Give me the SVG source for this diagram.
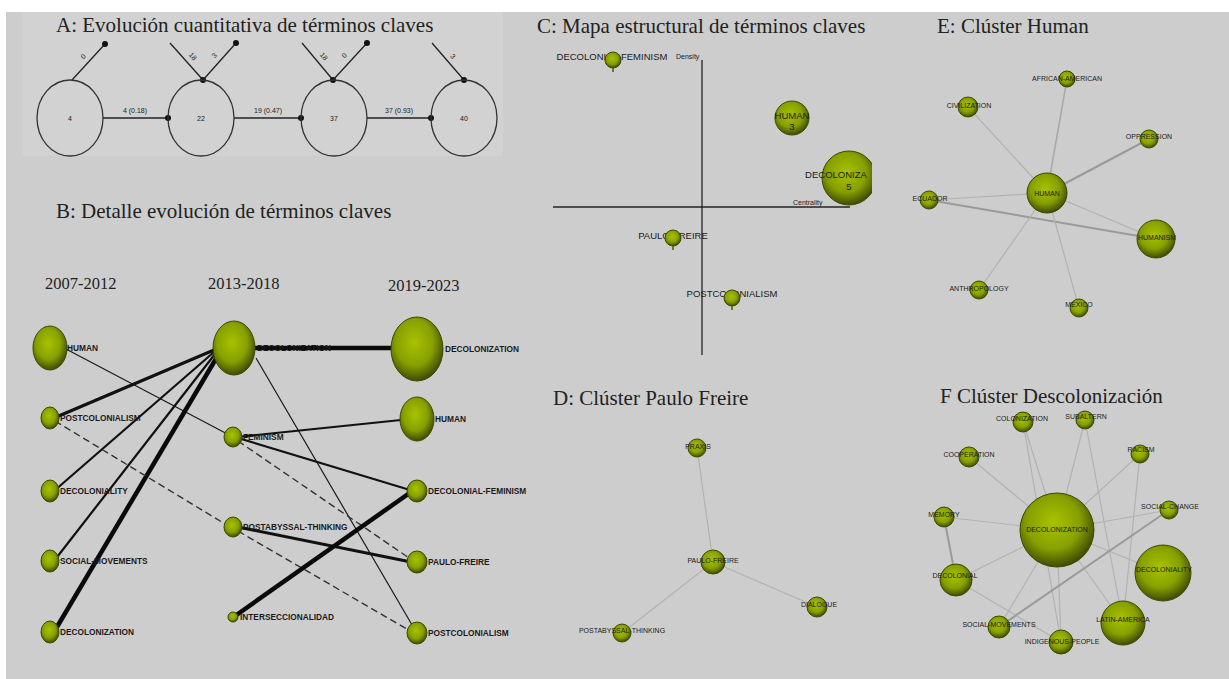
<svg xmlns="http://www.w3.org/2000/svg" width="1229" height="679" viewBox="0 0 1229 679">
<defs>
<radialGradient id="g" cx="45%" cy="40%" r="60%">
<stop offset="0" stop-color="#a8c200"/>
<stop offset="0.6" stop-color="#87a000"/>
<stop offset="1" stop-color="#3e4c00"/>
</radialGradient>
<marker id="dot" viewBox="0 0 6 6" refX="3" refY="3" markerWidth="6" markerHeight="6" markerUnits="userSpaceOnUse"><circle cx="3" cy="3" r="3" fill="#111"/></marker>
<clipPath id="clipC"><rect x="530" y="0" width="342" height="400"/></clipPath>
</defs>
<style>
.title{font-family:"Liberation Serif",serif;font-size:21px;fill:#222}
.yr{font-family:"Liberation Serif",serif;font-size:16.5px;fill:#222}
.n{fill:url(#g);stroke:#3e4a00;stroke-width:1}
.lb{font-family:"Liberation Sans",Arial,sans-serif;font-size:8.3px;font-weight:bold;fill:#1a1a1a}
.lc{font-family:"Liberation Sans",Arial,sans-serif;font-size:9.5px;fill:#1a1a1a}
.le{font-family:"Liberation Sans",Arial,sans-serif;font-size:7px;fill:#1a1a1a;text-anchor:middle}
.la{font-family:"Liberation Sans",Arial,sans-serif;font-size:7px;fill:#222;text-anchor:middle}
.ca{fill:none;stroke:#333;stroke-width:1.3}
.ea{stroke:#222;stroke-width:1.3;fill:none}
.e1{stroke:#1a1a1a;stroke-width:1.2;fill:none}
.e2{stroke:#111;stroke-width:2.2;fill:none}
.e3{stroke:#111;stroke-width:3;fill:none}
.e4{stroke:#0a0a0a;stroke-width:4.5;fill:none}
.ed{stroke:#333;stroke-width:1.4;stroke-dasharray:7 4;fill:none}
.g1{stroke:#b2b2b2;stroke-width:1.2;fill:none}
.g2{stroke:#9a9a9a;stroke-width:2;fill:none}
.ax{stroke:#222;stroke-width:1.3;fill:none}
</style>
<rect width="1229" height="679" fill="#ffffff"/>
<rect x="6" y="12" width="1223" height="667" fill="#cdcdcd"/>
<rect x="22" y="12" width="481" height="144" fill="#d2d2d2"/>

<!-- Panel A -->
<g id="panelA">
<text class="title" x="56" y="32">A: Evolución cuantitativa de términos claves</text>
<g id="connectorsA">
<line class="ea" x1="72" y1="80" x2="105" y2="44" marker-end="url(#dot)"/>
<line class="ea" x1="170" y1="43" x2="203" y2="80" marker-end="url(#dot)"/>
<line class="ea" x1="203" y1="80" x2="236" y2="43" marker-end="url(#dot)"/>
<line class="ea" x1="302" y1="43" x2="333" y2="80" marker-end="url(#dot)"/>
<line class="ea" x1="333" y1="80" x2="367" y2="43" marker-end="url(#dot)"/>
<line class="ea" x1="432" y1="43" x2="464" y2="80" marker-end="url(#dot)"/>
<line class="ea" x1="103" y1="118" x2="168" y2="118" marker-end="url(#dot)"/>
<line class="ea" x1="234" y1="118" x2="301" y2="118" marker-end="url(#dot)"/>
<line class="ea" x1="367" y1="118" x2="431" y2="118" marker-end="url(#dot)"/>
<text class="la" x="85" y="58" transform="rotate(-48 85 58)">0</text>
<text class="la" x="191" y="58" transform="rotate(48 191 58)">18</text>
<text class="la" x="216" y="57" transform="rotate(-48 216 57)">3</text>
<text class="la" x="322" y="58" transform="rotate(48 322 58)">18</text>
<text class="la" x="346" y="57" transform="rotate(-48 346 57)">0</text>
<text class="la" x="451" y="58" transform="rotate(48 451 58)">3</text>
<text class="la" x="135" y="113">4 (0.18)</text>
<text class="la" x="268" y="113">19 (0.47)</text>
<text class="la" x="399" y="113">37 (0.93)</text>
</g>
<g id="a1"><ellipse class="ca" cx="70" cy="118" rx="33" ry="38"/><text class="la" x="70" y="121">4</text></g>
<g id="a2"><ellipse class="ca" cx="201" cy="118" rx="33" ry="38"/><text class="la" x="201" y="121">22</text></g>
<g id="a3"><ellipse class="ca" cx="334" cy="118" rx="33" ry="38"/><text class="la" x="334" y="121">37</text></g>
<g id="a4"><ellipse class="ca" cx="464" cy="118" rx="33" ry="38"/><text class="la" x="464" y="121">40</text></g>
</g>

<!-- Panel B -->
<g id="panelB">
<text class="title" x="56" y="218">B: Detalle evolución de términos claves</text>
<text class="yr" x="45" y="289">2007-2012</text>
<text class="yr" x="208" y="289">2013-2018</text>
<text class="yr" x="388" y="291">2019-2023</text>
<g id="connectorsB">
<line class="e1" x1="66" y1="349" x2="233" y2="437"/>
<line class="e3" x1="54" y1="418" x2="214" y2="350"/>
<line class="e2" x1="54" y1="491" x2="214" y2="352"/>
<line class="e2" x1="54" y1="561" x2="215" y2="354"/>
<line class="e4" x1="54" y1="632" x2="217" y2="357"/>
<line class="ed" x1="55" y1="421" x2="230" y2="527"/>
<line class="e4" x1="255" y1="348" x2="392" y2="348"/>
<line class="e1" x1="256" y1="358" x2="415" y2="630"/>
<line class="e2" x1="237" y1="437" x2="401" y2="420"/>
<line class="e2" x1="238" y1="438" x2="410" y2="490"/>
<line class="ed" x1="238" y1="441" x2="412" y2="560"/>
<line class="e3" x1="238" y1="527" x2="411" y2="562"/>
<line class="ed" x1="238" y1="531" x2="412" y2="632"/>
<line class="e4" x1="235" y1="616" x2="411" y2="492"/>
</g>
<g id="b-human-l"><ellipse class="n" cx="50" cy="348" rx="17" ry="22"/><text class="lb" x="67" y="351">HUMAN</text></g>
<g id="b-postcol-l"><ellipse class="n" cx="50" cy="418" rx="9" ry="11"/><text class="lb" x="60" y="421">POSTCOLONIALISM</text></g>
<g id="b-decoloniality"><ellipse class="n" cx="50" cy="491" rx="9" ry="11"/><text class="lb" x="60" y="494">DECOLONIALITY</text></g>
<g id="b-social"><ellipse class="n" cx="50" cy="561" rx="9" ry="11"/><text class="lb" x="60" y="564">SOCIAL-MOVEMENTS</text></g>
<g id="b-decol-l"><ellipse class="n" cx="50" cy="632" rx="9" ry="11"/><text class="lb" x="60" y="635">DECOLONIZATION</text></g>
<g id="b-decol-m"><ellipse class="n" cx="234" cy="348" rx="21" ry="27"/><text class="lb" x="257" y="351">DECOLONIZATION</text></g>
<g id="b-feminism"><ellipse class="n" cx="233" cy="437" rx="9" ry="10"/><text class="lb" x="243" y="440">FEMINISM</text></g>
<g id="b-postabyssal"><ellipse class="n" cx="233" cy="527" rx="9" ry="10"/><text class="lb" x="243" y="530">POSTABYSSAL-THINKING</text></g>
<g id="b-inter"><ellipse class="n" cx="233" cy="617" rx="5" ry="5"/><text class="lb" x="240" y="620">INTERSECCIONALIDAD</text></g>
<g id="b-decol-r"><ellipse class="n" cx="417" cy="349" rx="26" ry="32"/><text class="lb" x="445" y="352">DECOLONIZATION</text></g>
<g id="b-human-r"><ellipse class="n" cx="417" cy="419" rx="17" ry="22"/><text class="lb" x="435" y="422">HUMAN</text></g>
<g id="b-decfem"><ellipse class="n" cx="417" cy="491" rx="10" ry="11"/><text class="lb" x="428" y="494">DECOLONIAL-FEMINISM</text></g>
<g id="b-paulo"><ellipse class="n" cx="417" cy="562" rx="10" ry="11"/><text class="lb" x="428" y="565">PAULO-FREIRE</text></g>
<g id="b-postcol-r"><ellipse class="n" cx="417" cy="633" rx="10" ry="11"/><text class="lb" x="428" y="636">POSTCOLONIALISM</text></g>
</g>

<!-- Panel C -->
<g id="panelC">
<text class="title" x="537" y="33">C: Mapa estructural de términos claves</text>
<g id="connectorsC">
<line class="ax" x1="702" y1="60" x2="702" y2="355"/>
<line class="ax" x1="553" y1="207" x2="850" y2="207"/>
</g>
<text class="lc" x="612" y="60" text-anchor="middle">DECOLONIAL-FEMINISM</text>
<text class="lc" x="676" y="59" style="font-size:7px">Density</text>
<text class="lc" x="793" y="205" style="font-size:7px">Centrality</text>
<g id="c-decfem"><circle class="n" cx="613" cy="60" r="8"/><line x1="613" y1="68" x2="613" y2="72" stroke="#4a5800" stroke-width="1.5"/></g>
<g id="c-human"><circle class="n" cx="792" cy="118" r="17"/><text class="lc" x="792" y="119" text-anchor="middle">HUMAN</text><text class="lc" x="792" y="130" text-anchor="middle">3</text></g>
<g id="c-decol" clip-path="url(#clipC)"><circle class="n" cx="849" cy="178" r="27"/><text class="lc" x="836" y="178" text-anchor="middle">DECOLONIZA</text><text class="lc" x="849" y="190" text-anchor="middle">5</text></g>
<g id="c-paulo"><text class="lc" x="673" y="239" text-anchor="middle">PAULO-FREIRE</text><circle class="n" cx="673" cy="238" r="8"/><line x1="673" y1="246" x2="673" y2="250" stroke="#4a5800" stroke-width="1.5"/></g>
<g id="c-postcol"><text class="lc" x="732" y="297" text-anchor="middle">POSTCOLONIALISM</text><circle class="n" cx="732" cy="298" r="8"/><line x1="732" y1="306" x2="732" y2="310" stroke="#4a5800" stroke-width="1.5"/></g>
</g>

<!-- Panel E -->
<g id="panelE">
<text class="title" x="937" y="33">E: Clúster Human</text>
<g id="connectorsE">
<line class="g1" x1="1047" y1="193" x2="968" y2="107"/>
<line class="g2" x1="1047" y1="193" x2="1067" y2="79" style="stroke:#a8a8a8;stroke-width:1.5"/>
<line class="g2" x1="1047" y1="193" x2="1149" y2="139"/>
<line class="g1" x1="1047" y1="193" x2="929" y2="200"/>
<line class="g2" x1="929" y1="200" x2="1156" y2="239"/>
<line class="g1" x1="1047" y1="193" x2="1156" y2="239"/>
<line class="g1" x1="1047" y1="193" x2="979" y2="290"/>
<line class="g1" x1="1047" y1="193" x2="1079" y2="308"/>
</g>
<g id="e-human"><circle class="n" cx="1047" cy="193" r="20"/><text class="le" x="1047" y="196">HUMAN</text></g>
<g id="e-afr"><circle class="n" cx="1067" cy="79" r="8"/><text class="le" x="1067" y="81">AFRICAN-AMERICAN</text></g>
<g id="e-civ"><circle class="n" cx="968" cy="107" r="10"/><text class="le" x="969" y="108">CIVILIZATION</text></g>
<g id="e-opp"><circle class="n" cx="1149" cy="139" r="9"/><text class="le" x="1149" y="139">OPPRESSION</text></g>
<g id="e-ecu"><circle class="n" cx="929" cy="200" r="9"/><text class="le" x="930" y="201">ECUADOR</text></g>
<g id="e-big"><circle class="n" cx="1156" cy="239" r="19"/><text class="le" x="1157" y="240">HUMANISM</text></g>
<g id="e-anth"><circle class="n" cx="979" cy="290" r="9"/><text class="le" x="979" y="291">ANTHROPOLOGY</text></g>
<g id="e-mex"><circle class="n" cx="1079" cy="308" r="9"/><text class="le" x="1079" y="307">MEXICO</text></g>
</g>

<!-- Panel D -->
<g id="panelD">
<text class="title" x="553" y="405">D: Clúster Paulo Freire</text>
<g id="connectorsD">
<line class="g1" x1="713" y1="562" x2="697" y2="448"/>
<line class="g1" x1="713" y1="562" x2="817" y2="607"/>
<line class="g1" x1="713" y1="562" x2="622" y2="633"/>
</g>
<g id="d-paulo"><circle class="n" cx="713" cy="562" r="12"/><text class="le" x="713" y="563">PAULO-FREIRE</text></g>
<g id="d-top"><circle class="n" cx="697" cy="448" r="9"/><text class="le" x="698" y="449">PRAXIS</text></g>
<g id="d-right"><circle class="n" cx="817" cy="607" r="10"/><text class="le" x="819" y="607">DIALOGUE</text></g>
<g id="d-post"><circle class="n" cx="622" cy="633" r="9"/><text class="le" x="622" y="633">POSTABYSSAL-THINKING</text></g>
</g>

<!-- Panel F -->
<g id="panelF">
<text class="title" x="940" y="403">F Clúster Descolonización</text>
<g id="connectorsF">
<line class="g1" x1="1057" y1="530" x2="1023" y2="422"/>
<line class="g1" x1="1057" y1="530" x2="1085" y2="420"/>
<line class="g1" x1="1057" y1="530" x2="1140" y2="454"/>
<line class="g1" x1="1057" y1="530" x2="969" y2="457"/>
<line class="g1" x1="1057" y1="530" x2="944" y2="517"/>
<line class="g1" x1="1057" y1="530" x2="1169" y2="510"/>
<line class="g1" x1="1057" y1="530" x2="956" y2="580"/>
<line class="g1" x1="1057" y1="530" x2="1163" y2="573"/>
<line class="g1" x1="1057" y1="530" x2="1123" y2="623"/>
<line class="g1" x1="1057" y1="530" x2="999" y2="627"/>
<line class="g1" x1="1057" y1="530" x2="1061" y2="642"/>
<line class="g1" x1="1023" y1="422" x2="1061" y2="642"/>
<line class="g1" x1="1085" y1="420" x2="1123" y2="623"/>
<line class="g1" x1="1140" y1="454" x2="1123" y2="623"/>
<line class="g1" x1="956" y1="580" x2="1061" y2="642"/>
<line class="g2" x1="944" y1="517" x2="956" y2="580"/>
<line class="g2" x1="999" y1="627" x2="1169" y2="510"/>
</g>
<g id="f-center"><circle class="n" cx="1057" cy="530" r="37"/><text class="le" x="1057" y="532">DECOLONIZATION</text></g>
<g id="f-colz"><circle class="n" cx="1023" cy="422" r="10"/><text class="le" x="1022" y="421">COLONIZATION</text></g>
<g id="f-sub"><circle class="n" cx="1085" cy="420" r="9"/><text class="le" x="1086" y="419">SUBALTERN</text></g>
<g id="f-rac"><circle class="n" cx="1140" cy="454" r="9"/><text class="le" x="1141" y="452">RACISM</text></g>
<g id="f-coop"><circle class="n" cx="969" cy="457" r="10"/><text class="le" x="969" y="457">COOPERATION</text></g>
<g id="f-mem"><circle class="n" cx="944" cy="517" r="10"/><text class="le" x="944" y="517">MEMORY</text></g>
<g id="f-sch"><circle class="n" cx="1169" cy="510" r="9"/><text class="le" x="1170" y="509">SOCIAL-CHANGE</text></g>
<g id="f-decl"><circle class="n" cx="956" cy="580" r="16"/><text class="le" x="955" y="578">DECOLONIAL</text></g>
<g id="f-decy"><circle class="n" cx="1163" cy="573" r="28"/><text class="le" x="1164" y="572">DECOLONIALITY</text></g>
<g id="f-latam"><circle class="n" cx="1123" cy="623" r="22"/><text class="le" x="1123" y="622">LATIN-AMERICA</text></g>
<g id="f-socm"><circle class="n" cx="999" cy="627" r="11"/><text class="le" x="999" y="627">SOCIAL-MOVEMENTS</text></g>
<g id="f-ind"><circle class="n" cx="1061" cy="642" r="12"/><text class="le" x="1062" y="644">INDIGENOUS-PEOPLE</text></g>
</g>
</svg>
